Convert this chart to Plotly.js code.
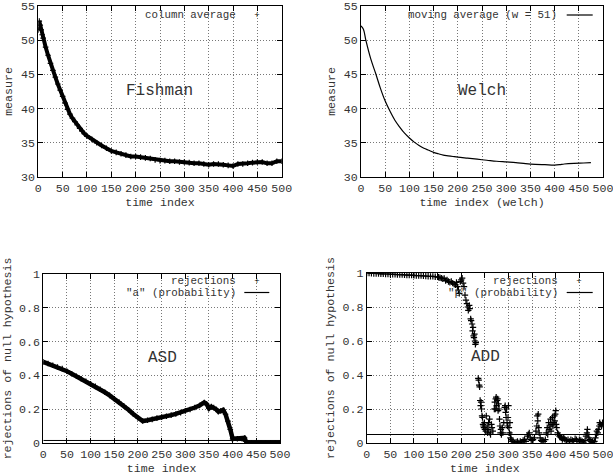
<!DOCTYPE html>
<html>
<head>
<meta charset="utf-8">
<script src="https://cdn.plot.ly/plotly-3.0.1.min.js"></script>
<style>html,body{margin:0;padding:0;background:#fff;}#chart{width:613px;height:476px;}</style>
</head>
<body>
<div id="chart"></div>
<script>
// ---------- data ----------
const fishmanT = [0,2,4,6,8,10,15,20,25,30,35,40,45,50,55,60,65,70,75,80,85,90,95,100,110,120,130,140,150,160,170,180,190,200,210,220,230,240,250,260,270,280,290,300,310,320,330,340,350,360,370,380,390,400,410,420,430,440,450,460,470,480,490,500];
const fishmanV = [51.5,52.8,52.2,51.5,50.8,50.3,49.0,47.8,46.6,45.6,44.6,43.6,42.7,41.8,40.8,39.9,39.2,38.6,38.1,37.6,37.1,36.7,36.3,36.0,35.5,35.0,34.6,34.2,33.8,33.6,33.4,33.2,33.0,33.0,32.9,32.8,32.7,32.5,32.4,32.4,32.3,32.3,32.2,32.2,32.1,32.0,32.0,31.9,31.8,31.9,31.9,31.8,31.7,31.6,31.9,31.9,32.0,32.1,32.2,32.2,32.0,32.0,32.3,32.3];

const welchT = [0,5,10,20,30,40,50,60,70,80,90,100,110,120,130,140,150,160,170,180,190,200,220,240,260,280,300,320,340,360,380,400,410,420,440,460,475];
const welchV = [52.1,51.6,50.0,47.3,45.2,43.0,41.1,39.6,38.3,37.3,36.4,35.7,35.1,34.6,34.2,33.9,33.6,33.4,33.2,33.1,33.0,32.9,32.75,32.6,32.45,32.3,32.2,32.1,31.95,31.85,31.8,31.75,31.8,31.9,32.0,32.05,32.1];

const asdT = [0,10,20,30,40,50,60,70,80,90,100,110,120,130,140,150,160,170,180,190,200,210,220,230,240,250,260,270,280,290,300,310,320,330,340,345,350,355,360,365,370,375,380,385,390,395,400,410,420,425,428,430,440,450,460,470,480,490,500];
const asdV = [0.48,0.47,0.46,0.45,0.44,0.425,0.41,0.395,0.38,0.365,0.35,0.335,0.318,0.30,0.282,0.262,0.242,0.22,0.197,0.172,0.148,0.13,0.135,0.14,0.147,0.153,0.158,0.165,0.172,0.18,0.19,0.198,0.21,0.222,0.24,0.23,0.205,0.215,0.21,0.2,0.185,0.19,0.195,0.17,0.13,0.08,0.025,0.025,0.025,0.03,0.01,0.0,0,0,0,0,0,0,0];
const asdAlpha = 0.015;

const addT = [0,5,10,15,20,25,30,35,40,45,50,55,60,65,70,75,80,85,90,95,100,105,110,115,120,125,130,135,140,145,150,
152,155,158,161,164,167,170,173,176,179,182,185,188,190,192,194,196,198,200,202,204,206,208,
210,212,214,215,217,218,220,221,223,224,225,226,227,228,229,230,231,
236,237,238,239,240,241,242,243,244,245,246,247,248,249,250,252,253,255,256,257,258,260,261,262,264,265,267,270,271,272,273,274,275,276,277,278,279,280,281,282,283,284,285,287,288,290,292,293,294,295,296,297,298,299,300,301,302,303,304,305,306,308,310,313,316,319,322,325,328,331,334,337,340,342,344,346,348,350,352,355,358,360,361,362,363,364,365,367,369,371,373,375,378,380,382,383,385,386,388,389,390,392,393,394,396,397,398,399,400,401,402,404,406,408,410,412,414,416,418,420,423,426,429,432,435,438,441,444,447,450,453,456,459,462,464,466,467,468,470,472,474,476,478,480,482,484,486,487,489,490,492,493,495,497,499,500];
const addV = [1.0,1.0,0.998,0.997,0.997,0.996,0.995,0.995,0.994,0.994,0.993,0.992,0.992,0.991,0.99,0.99,0.989,0.988,0.988,0.987,0.986,0.985,0.985,0.984,0.983,0.982,0.981,0.98,0.98,0.978,0.977,
0.975,0.972,0.97,0.965,0.968,0.955,0.96,0.95,0.945,0.95,0.94,0.935,0.93,0.945,0.92,0.9,0.88,0.95,0.96,0.97,0.94,0.92,0.87,
0.84,0.82,0.8,0.78,0.81,0.79,0.73,0.72,0.7,0.66,0.68,0.63,0.62,0.64,0.6,0.58,0.59,
0.38,0.37,0.34,0.33,0.25,0.22,0.24,0.2,0.16,0.15,0.11,0.1,0.09,0.12,0.08,0.07,0.16,0.1,0.06,0.08,0.12,0.14,0.06,0.05,0.11,0.09,0.07,0.2,0.24,0.2,0.26,0.27,0.22,0.25,0.26,0.19,0.23,0.2,0.14,0.1,0.06,0.08,0.05,0.09,0.06,0.12,0.21,0.22,0.18,0.15,0.2,0.12,0.1,0.15,0.22,0.09,0.06,0.12,0.03,0.05,0.02,0.01,0.01,0.0,0.005,0.01,0.0,0.01,0.005,0.015,0.02,0.01,0.04,0.05,0.06,0.03,0.02,0.015,0.02,0.03,0.07,0.1,0.16,0.13,0.17,0.09,0.06,0.03,0.015,0.01,0.015,0.01,0.02,0.06,0.09,0.05,0.12,0.08,0.1,0.14,0.07,0.11,0.15,0.1,0.12,0.16,0.13,0.17,0.19,0.11,0.09,0.06,0.05,0.04,0.035,0.03,0.02,0.03,0.025,0.02,0.015,0.02,0.01,0.02,0.015,0.01,0.025,0.02,0.01,0.02,0.015,0.01,0.005,0.015,0.04,0.06,0.08,0.05,0.03,0.02,0.01,0.005,0.01,0.0,0.01,0.03,0.05,0.07,0.06,0.08,0.1,0.12,0.11,0.1,0.12,0.11];
const addP = 0.05;

const xTickVals = [0,50,100,150,200,250,300,350,400,450,500];

// ---------- styling ----------
const W = 613, H = 476;
const FONT = 'Liberation Mono, Courier New, monospace';
const TXT = '#333';
const fx = p => p / W;
const fy = p => 1 - p / H;

function xaxis(dom, anchor, title) {
  return {domain: dom, anchor: anchor, range: [0, 500], tickvals: xTickVals,
    ticks: 'inside', ticklen: 5, tickcolor: '#000', mirror: 'ticks', showline: true, linecolor: '#000', linewidth: 1,
    showgrid: true, gridcolor: '#777', griddash: '1px,2px', gridwidth: 1, zeroline: false,
    ticklabeloverflow: 'allow',
    tickfont: {family: FONT, size: 11.6, color: TXT},
    title: {text: title, font: {family: FONT, size: 11.6, color: TXT}, standoff: 3}};
}
function yaxis(dom, anchor, range, dtick, title) {
  return {domain: dom, anchor: anchor, range: range, dtick: dtick,
    ticks: 'inside', ticklen: 5, tickcolor: '#000', mirror: 'ticks', showline: true, linecolor: '#000', linewidth: 1,
    showgrid: true, gridcolor: '#777', griddash: '1px,2px', gridwidth: 1, zeroline: false,
    ticklabeloverflow: 'allow',
    tickfont: {family: FONT, size: 11.6, color: TXT},
    title: {text: title, font: {family: FONT, size: 11.6, color: TXT}, standoff: 5}};
}

const chainMarker = {symbol: 'cross-thin', size: 4, color: '#000', line: {width: 1.2, color: '#000'}};

const traces = [
  {x: fishmanT, y: fishmanV, xaxis: 'x', yaxis: 'y', mode: 'lines+markers', line: {color: '#000', width: 4}, marker: chainMarker, showlegend: false},
  {x: welchT, y: welchV, xaxis: 'x2', yaxis: 'y2', mode: 'lines', line: {color: '#000', width: 1.2, shape: 'spline'}, showlegend: false},
  {x: asdT, y: asdV, xaxis: 'x3', yaxis: 'y3', mode: 'lines+markers', line: {color: '#000', width: 4.5}, marker: chainMarker, showlegend: false},
  {x: [0, 500], y: [asdAlpha, asdAlpha], xaxis: 'x3', yaxis: 'y3', mode: 'lines', line: {color: '#000', width: 1}, showlegend: false},
  {x: addT, y: addV, xaxis: 'x4', yaxis: 'y4', mode: 'markers', marker: {symbol: 'cross-thin', size: 4.5, color: '#000', line: {width: 1.2, color: '#000'}}, showlegend: false},
  {x: [0, 500], y: [addP, addP], xaxis: 'x4', yaxis: 'y4', mode: 'lines', line: {color: '#000', width: 1}, showlegend: false}
];

function txt(text, x, y, size, anchor) {
  return {text: text, xref: 'paper', yref: 'paper', x: fx(x), y: fy(y), xanchor: anchor || 'right', yanchor: 'middle',
    showarrow: false, font: {family: FONT, size: size || 11.6, color: TXT}};
}
function mark(x, y) {
  return {text: '+', xref: 'paper', yref: 'paper', x: fx(x), y: fy(y), xanchor: 'center', yanchor: 'middle',
    showarrow: false, font: {family: 'DejaVu Sans', size: 7, color: '#000'}};
}
function seg(x0, x1, y) {
  return {type: 'line', xref: 'paper', yref: 'paper', x0: fx(x0), x1: fx(x1), y0: fy(y), y1: fy(y), line: {color: '#000', width: 1.2}};
}

const LG = 10.8;
const layout = {
  width: W, height: H, margin: {l: 0, r: 0, t: 0, b: 0},
  paper_bgcolor: '#fff', plot_bgcolor: '#fff', showlegend: false,
  xaxis: xaxis([fx(38.3), fx(281.7)], 'y', 'time index'),
  yaxis: yaxis([fy(177), fy(6)], 'x', [30, 55], 5, 'measure'),
  xaxis2: xaxis([fx(361), fx(603)], 'y2', 'time index (welch)'),
  yaxis2: yaxis([fy(177), fy(6)], 'x2', [30, 55], 5, 'measure'),
  xaxis3: xaxis([fx(43.3), fx(280)], 'y3', 'time index'),
  yaxis3: yaxis([fy(443), fy(274)], 'x3', [0, 1], 0.2, 'rejections of null hypothesis'),
  xaxis4: xaxis([fx(366.7), fx(603)], 'y4', 'time index'),
  yaxis4: yaxis([fy(443), fy(273)], 'x4', [0, 1], 0.2, 'rejections of null hypothesis'),
  annotations: [
    txt('Fishman', 159.7, 90.7, 16, 'center'),
    txt('Welch', 482.2, 90.7, 16, 'center'),
    txt('ASD', 162.2, 357.7, 16, 'center'),
    txt('ADD', 485.3, 357.3, 16, 'center'),
    txt('column average', 237.8, 15, LG),
    mark(256.7, 15),
    txt('moving average (w = 51)', 558.8, 15, LG),
    txt('rejections', 237.8, 280.5, LG),
    mark(256.7, 280.5),
    txt('"a" (probability)', 237.8, 293, LG),
    txt('rejections', 559.8, 280.5, LG),
    mark(579.3, 280.5),
    txt('"p" (probability)', 559.8, 293, LG)
  ],
  shapes: [
    seg(566.7, 592.7, 15),
    seg(244.3, 269.3, 292.5),
    seg(566.7, 592.7, 292.5)
  ]
};

Plotly.newPlot('chart', traces, layout, {displayModeBar: false, staticPlot: true});
</script>
</body>
</html>
